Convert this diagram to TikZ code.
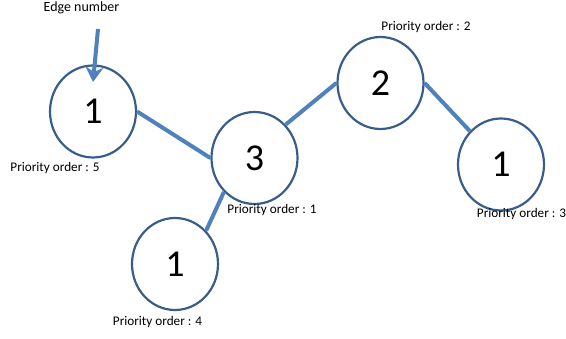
\documentclass[tikz,border=0pt]{standalone}
\usepackage{fontspec}
\setmainfont{Carlito}
\usetikzlibrary{shapes.geometric,arrows.meta}
\definecolor{edgeblue}{HTML}{4F81BD}
\definecolor{ringblue}{HTML}{385D8A}
\tikzset{
  vert/.style={ellipse, draw=ringblue, line width=2.2pt, minimum width=86pt, minimum height=92pt, inner sep=0pt, font=\fontsize{38}{40}\selectfont},
  link/.style={draw=edgeblue, line width=4pt},
  prio/.style={anchor=base, inner sep=0pt, font=\fontsize{13.2}{14}\selectfont},
}
\begin{document}
\begin{tikzpicture}[x=1pt,y=-1pt]
\useasboundingbox (0,0) rectangle (566,339);
\node[vert] (A) at (93,111.5) {1};
\node[vert] (B) at (254.5,158) {3};
\node[vert] (C) at (380.5,83) {2};
\node[vert] (D) at (501,164.5) {1};
\node[vert] (E) at (175,264) {1};
\draw[link] (A.east) -- (B.west);
\draw[link] (B.47) -- (C.west);
\draw[link] (C.east) -- (D.133);
\draw[link] (B.228) -- (E.47);
\node[prio] (pa) at (55,172) {Priority order : 5};
\node[prio] (pc) at (426,31) {Priority order : 2};
\node[prio] (pb) at (272,214) {Priority order : 1};
\node[prio] (pd) at (521.5,218) {Priority order : 3};
\node[prio] (pe) at (157.5,326) {Priority order : 4};
\node[anchor=base, inner sep=0pt, font=\fontsize{14}{16}\selectfont] (lbl) at (81.5,12) {Edge number};
\coordinate (tail) at (98,29);
\coordinate (tip) at (93,82);
\draw[link, -{Stealth[length=15pt,width=18pt,inset=5pt]}] (tail) -- (tip);
\end{tikzpicture}
\end{document}
